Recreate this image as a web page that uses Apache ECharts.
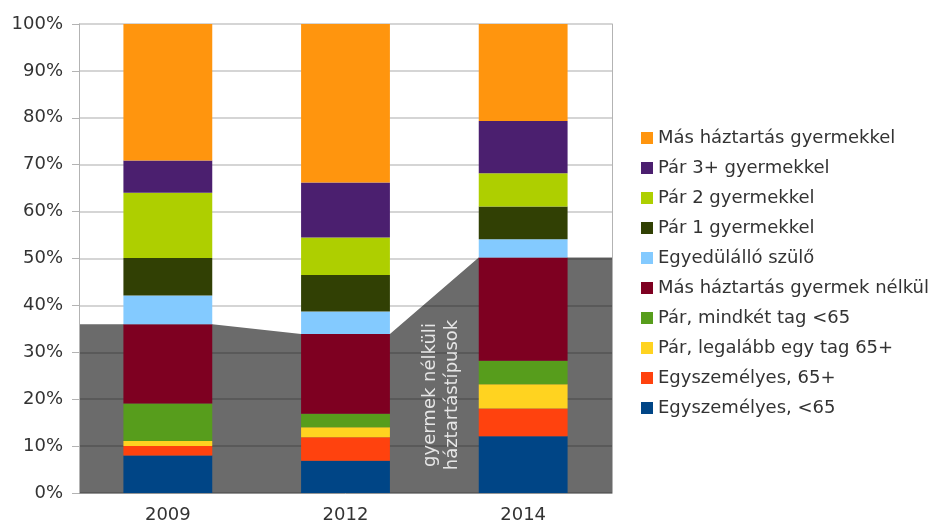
<!DOCTYPE html>
<html>
<head>
<meta charset="utf-8">
<script src="https://cdn.jsdelivr.net/npm/echarts@6/dist/echarts.min.js"></script>
<style>
  html, body { margin: 0; padding: 0; background: #fff; }
  #chart { width: 944px; height: 530px; }
</style>
</head>
<body>
<div id="chart"></div>
<script>
const years = ['2009', '2012', '2014']

// stacked from the bottom up, percent of households
const egyszemelyesAlatt65 = [8.0, 6.9, 12.1]
const egyszemelyes65 = [2.0, 5.0, 5.9]
const parLegalabbEgy65 = [1.1, 2.1, 5.2]
const parMindketAlatt65 = [8.0, 2.9, 5.0]
const masGyermekNelkul = [16.9, 17.0, 22.0]
const egyedulallo = [6.1, 4.8, 3.9]
const par1 = [8.0, 7.8, 7.0]
const par2 = [13.9, 8.0, 7.1]
const par3 = [6.9, 11.7, 11.1]
const masGyermekkel = [29.1, 33.8, 20.7]

const yTicks = [0, 100, 10]
const areaLabel = 'gyermek nélküli\nháztartástípusok'

const seriesDefs = [
  { name: 'Egyszemélyes, <65', data: egyszemelyesAlatt65, color: '#004586' },
  { name: 'Egyszemélyes, 65+', data: egyszemelyes65, color: '#ff420e' },
  { name: 'Pár, legalább egy tag 65+', data: parLegalabbEgy65, color: '#ffd320' },
  { name: 'Pár, mindkét tag <65', data: parMindketAlatt65, color: '#579d1c' },
  { name: 'Más háztartás gyermek nélkül', data: masGyermekNelkul, color: '#7e0021' },
  { name: 'Egyedülálló szülő', data: egyedulallo, color: '#83caff' },
  { name: 'Pár 1 gyermekkel', data: par1, color: '#314004' },
  { name: 'Pár 2 gyermekkel', data: par2, color: '#aecf00' },
  { name: 'Pár 3+ gyermekkel', data: par3, color: '#4b1f6f' },
  { name: 'Más háztartás gyermekkel', data: masGyermekkel, color: '#ff950e' },
]

// childless share = first five series summed
const childless = years.map((y, i) =>
  seriesDefs.slice(0, 5).reduce((s, d) => s + d.data[i], 0)
)
// grey band follows the bar edges (bar = half of a category)
const areaPoints = [[0, childless[0]]]
childless.forEach((v, i) => {
  areaPoints.push([i + 0.25, v])
  areaPoints.push([i + 0.75, v])
})
areaPoints.push([years.length, childless[childless.length - 1]])

const font = 'DejaVu Sans'
const chart = echarts.init(document.getElementById('chart'), null, { renderer: 'canvas' })

chart.setOption({
  animation: false,
  grid: { left: 79, right: 332, top: 24, bottom: 37 },
  legend: {
    orient: 'vertical',
    left: 636,
    top: 124,
    itemWidth: 12,
    itemHeight: 12,
    itemGap: 12,
    icon: 'rect',
    data: seriesDefs.map((d) => d.name).reverse(),
    textStyle: { fontFamily: font, fontSize: 18, color: '#333' },
  },
  xAxis: [
    {
      type: 'category',
      data: years,
      axisLine: { lineStyle: { color: '#b3b3b3' } },
      axisTick: { length: 7, lineStyle: { color: '#b3b3b3' } },
      axisLabel: { fontFamily: font, fontSize: 18, color: '#333', margin: 13 },
    },
    { type: 'value', min: 0, max: years.length, show: false },
  ],
  yAxis: [
    {
      type: 'value',
      min: yTicks[0],
      max: yTicks[1],
      interval: yTicks[2],
      z: 1,
      axisLine: { show: true, lineStyle: { color: '#b3b3b3' } },
      axisTick: { show: true, length: 7, lineStyle: { color: '#b3b3b3' } },
      axisLabel: { fontFamily: font, fontSize: 18, color: '#333', margin: 16, formatter: '{value}%' },
      splitLine: { lineStyle: { color: 'rgba(0,0,0,0.22)', width: 1.5 } },
    },
    {
      type: 'value',
      position: 'right',
      min: yTicks[0],
      max: yTicks[1],
      axisLine: { show: true, lineStyle: { color: '#b3b3b3' } },
      axisTick: { show: false },
      axisLabel: { show: false },
      splitLine: { show: false },
    },
  ],
  series: [
    {
      type: 'line',
      xAxisIndex: 1,
      data: areaPoints,
      symbol: 'none',
      silent: true,
      z: 0,
      lineStyle: { width: 0 },
      areaStyle: { color: '#6b6b6b', opacity: 1 },
    },
    ...seriesDefs.map((d) => ({
      name: d.name,
      type: 'bar',
      stack: 'total',
      barWidth: '50%',
      z: 3,
      itemStyle: { color: d.color },
      data: d.data,
    })),
  ],
  graphic: [
    {
      type: 'text',
      x: 441,
      y: 395,
      rotation: Math.PI / 2,
      z: 10,
      style: {
        text: areaLabel,
        fill: '#e6e6e6',
        font: '18px "DejaVu Sans"',
        align: 'center',
        verticalAlign: 'middle',
        lineHeight: 22,
      },
    },
  ],
})
</script>
</body>
</html>
